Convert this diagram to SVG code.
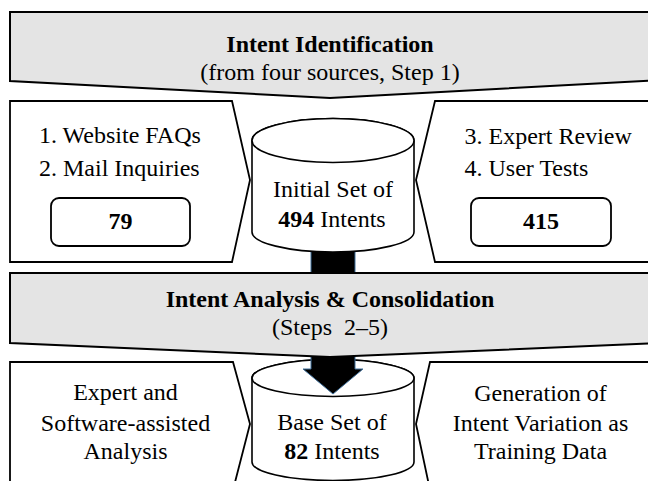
<svg xmlns="http://www.w3.org/2000/svg" width="648" height="481" viewBox="0 0 648 481">
  <defs>
    <style>
      .band { fill: #e4e4e4; stroke: #000; stroke-width: 2; stroke-linejoin: miter; }
      .panel { fill: #fff; stroke: #000; stroke-width: 1.8; stroke-linejoin: miter; }
      .db { fill: #fff; stroke: #000; stroke-width: 1.6; }
      .count { fill: #fff; stroke: #000; stroke-width: 1.8; }
      .flow { fill: #000; stroke: #41719c; stroke-width: 1; }
      .b { font-weight: bold; }
      .c { text-anchor: middle; }
    </style>
  </defs>

  <g font-family="Liberation Serif, Times New Roman, serif" font-size="24" fill="#000">
  <!-- lower database (drawn first so the flow arrow sits on top of it) -->
  <g id="base-set">
    <path class="db" d="M252,378 L252,462 A81,18.5 0 0 0 414,462 L414,378 A81,18.5 0 0 0 252,378 Z"/>
    <ellipse class="db" cx="333" cy="378" rx="81" ry="18.5"/>
    <text class="c" x="332" y="430">Base Set of</text>
    <text class="c" x="332" y="459"><tspan class="b">82</tspan> Intents</text>
  </g>

  <!-- connector: block arrow from the initial set down to the base set -->
  <g id="connectors">
    <path class="flow" d="M311,240 L355,240 L355,369 L363,369 L333,394 L303,369 L311,369 Z"/>
  </g>

  <!-- Step 1 band -->
  <g id="intent-identification">
    <path class="band" d="M10,12 L662,12 L662,80 L330,98 L10,81 Z"/>
    <text class="c b" x="330" y="52">Intent Identification</text>
    <text class="c" x="330" y="80">(from four sources, Step 1)</text>
  </g>

  <!-- sources 1 and 2 -->
  <g id="sources-1-2">
    <path class="panel" d="M10,101 L232,101 L250,180 L232,262 L10,262 Z"/>
    <text x="39" y="143">1. Website FAQs</text>
    <text x="39" y="176">2. Mail Inquiries</text>
    <rect class="count" x="51" y="198" width="139" height="48" rx="8"/>
    <text class="c b" x="120.5" y="229">79</text>
  </g>

  <!-- sources 3 and 4 -->
  <g id="sources-3-4">
    <path class="panel" d="M435,101 L662,101 L662,262 L435,262 L416,180 Z"/>
    <text x="464.5" y="144">3. Expert Review</text>
    <text x="464.5" y="176">4. User Tests</text>
    <rect class="count" x="471" y="198" width="140" height="48" rx="8"/>
    <text class="c b" x="541" y="229">415</text>
  </g>

  <!-- upper database -->
  <g id="initial-set">
    <path class="db" d="M252,140.5 L252,232 A81,20 0 0 0 414,232 L414,140.5 A81,22 0 0 0 252,140.5 Z"/>
    <ellipse class="db" cx="333" cy="140.5" rx="81" ry="22"/>
    <text class="c" x="333" y="197">Initial Set of</text>
    <text class="c" x="332" y="227"><tspan class="b">494</tspan> Intents</text>
  </g>

  <!-- Steps 2-5 band -->
  <g id="intent-analysis">
    <path class="band" d="M10,273 L662,273 L662,343 L330,357 L10,343 Z"/>
    <text class="c b" x="330" y="307">Intent Analysis &amp; Consolidation</text>
    <text class="c" x="330" y="335" xml:space="preserve">(Steps  2–5)</text>
  </g>

  <!-- analysis panel -->
  <g id="analysis">
    <path class="panel" d="M10,362 L233,362 L250,424 L233,490 L10,490 Z"/>
    <text class="c" x="125.5" y="400">Expert and</text>
    <text class="c" x="125.5" y="431">Software-assisted</text>
    <text class="c" x="125.5" y="459">Analysis</text>
  </g>

  <!-- training data panel -->
  <g id="training-data">
    <path class="panel" d="M430,362 L662,362 L662,490 L430,490 L416,424 Z"/>
    <text class="c" x="540.5" y="401">Generation of</text>
    <text class="c" x="540.5" y="431">Intent Variation as</text>
    <text class="c" x="540.5" y="459">Training Data</text>
  </g>
  </g>
</svg>
